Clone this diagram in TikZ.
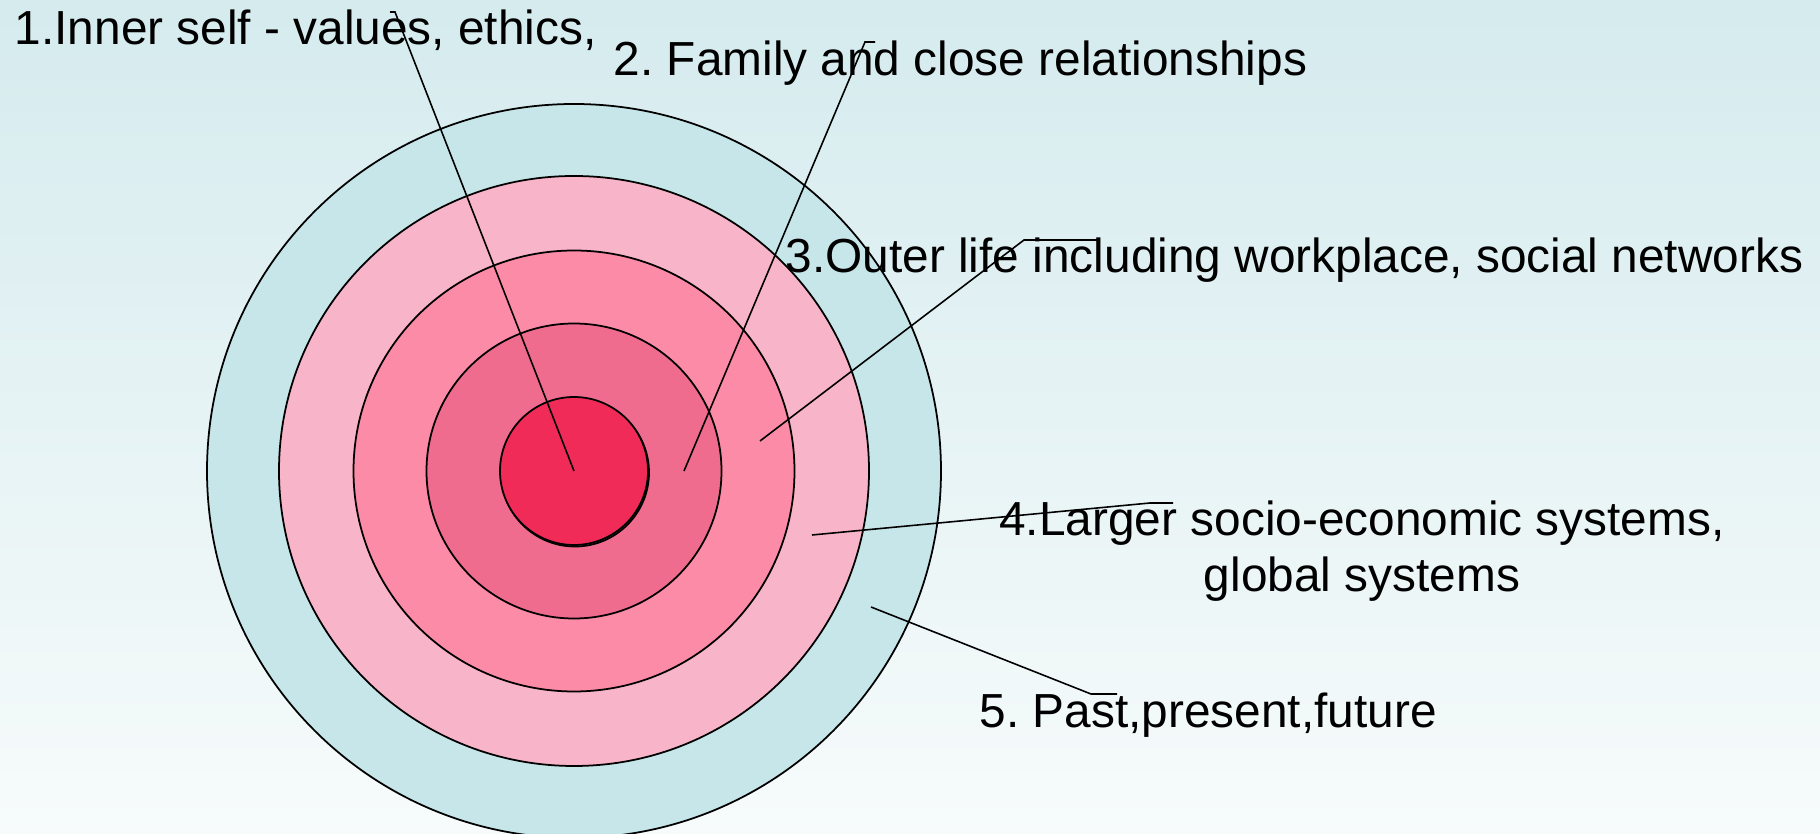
\documentclass[tikz,border=0pt]{standalone}
\usepackage{fontspec}
\setmainfont{Liberation Sans}
\frenchspacing
\usepackage{tikz}
\usetikzlibrary{calc}
\definecolor{bgtop}{HTML}{D5EBEE}
\definecolor{bgbot}{HTML}{F7FBFB}
\definecolor{ringfive}{HTML}{C6E6E9}
\definecolor{ringfour}{HTML}{F8B4C8}
\definecolor{ringthree}{HTML}{FC8BA8}
\definecolor{ringtwo}{HTML}{F06C8F}
\definecolor{ringone}{HTML}{F02B58}
\tikzset{
    ring/.style={draw=black, line width=0.5pt},
    leader/.style={draw=black, line width=0.45pt},
    callout/.style={font=\fontsize{13.6pt}{16.2pt}\selectfont, inner sep=0pt, anchor=base west}
}

\begin{document}
\begin{tikzpicture}
    \useasboundingbox (0,0) rectangle (18.2,8.34);
    \shade[top color=bgtop, bottom color=bgbot] (0,0) rectangle (18.2,8.34);
    \clip (0,0) rectangle (18.2,8.34);
    \coordinate (O) at (5.74,3.63);
    % rings, outermost first
    \draw[ring, fill=ringfive]  (O) circle (3.67);
    \draw[ring, fill=ringfour]  (O) circle (2.95);
    \draw[ring, fill=ringthree] (O) circle (2.205);
    \draw[ring, fill=ringtwo]   (O) circle (1.475);
    \draw[ring] ($(O)+(0.01,-0.015)$) circle (0.74);
    \draw[ring, fill=ringone]   (O) circle (0.74);

    % labels
    \node[callout] (self)    at (0.14,7.89) {1.Inner self - values, ethics,};
    \node[callout] (family)  at (6.13,7.58) {2. Family and close relationships};
    \node[callout] (outer)   at (7.85,5.61) {3.Outer life including workplace, social networks};
    % base of a two-line node sits on its last line
    \node[callout, anchor=base, align=center] (systems) at (13.62,2.42)
        {4.Larger socio-economic systems,\\global systems};
    \node[callout] (time)    at (9.79,1.06) {5. Past,present,future};

    % leader lines: start inside a ring, bend, short tick at the label
    \coordinate (s1) at (O);         \coordinate (k1) at (3.95,8.22); \coordinate (e1) at (3.90,8.22);
    \coordinate (s2) at (6.84,3.63); \coordinate (k2) at (8.65,7.92); \coordinate (e2) at (8.75,7.92);
    \coordinate (s3) at (7.60,3.93); \coordinate (k3) at (10.24,5.94); \coordinate (e3) at (10.97,5.94);
    \coordinate (s4) at (8.12,2.99); \coordinate (k4) at (11.50,3.31); \coordinate (e4) at (11.73,3.31);
    \coordinate (s5) at (8.71,2.27); \coordinate (k5) at (10.91,1.40); \coordinate (e5) at (11.17,1.40);
    \foreach \i in {1,...,5}
        \draw[leader] (s\i) -- (k\i) -- (e\i);
\end{tikzpicture}
\end{document}
